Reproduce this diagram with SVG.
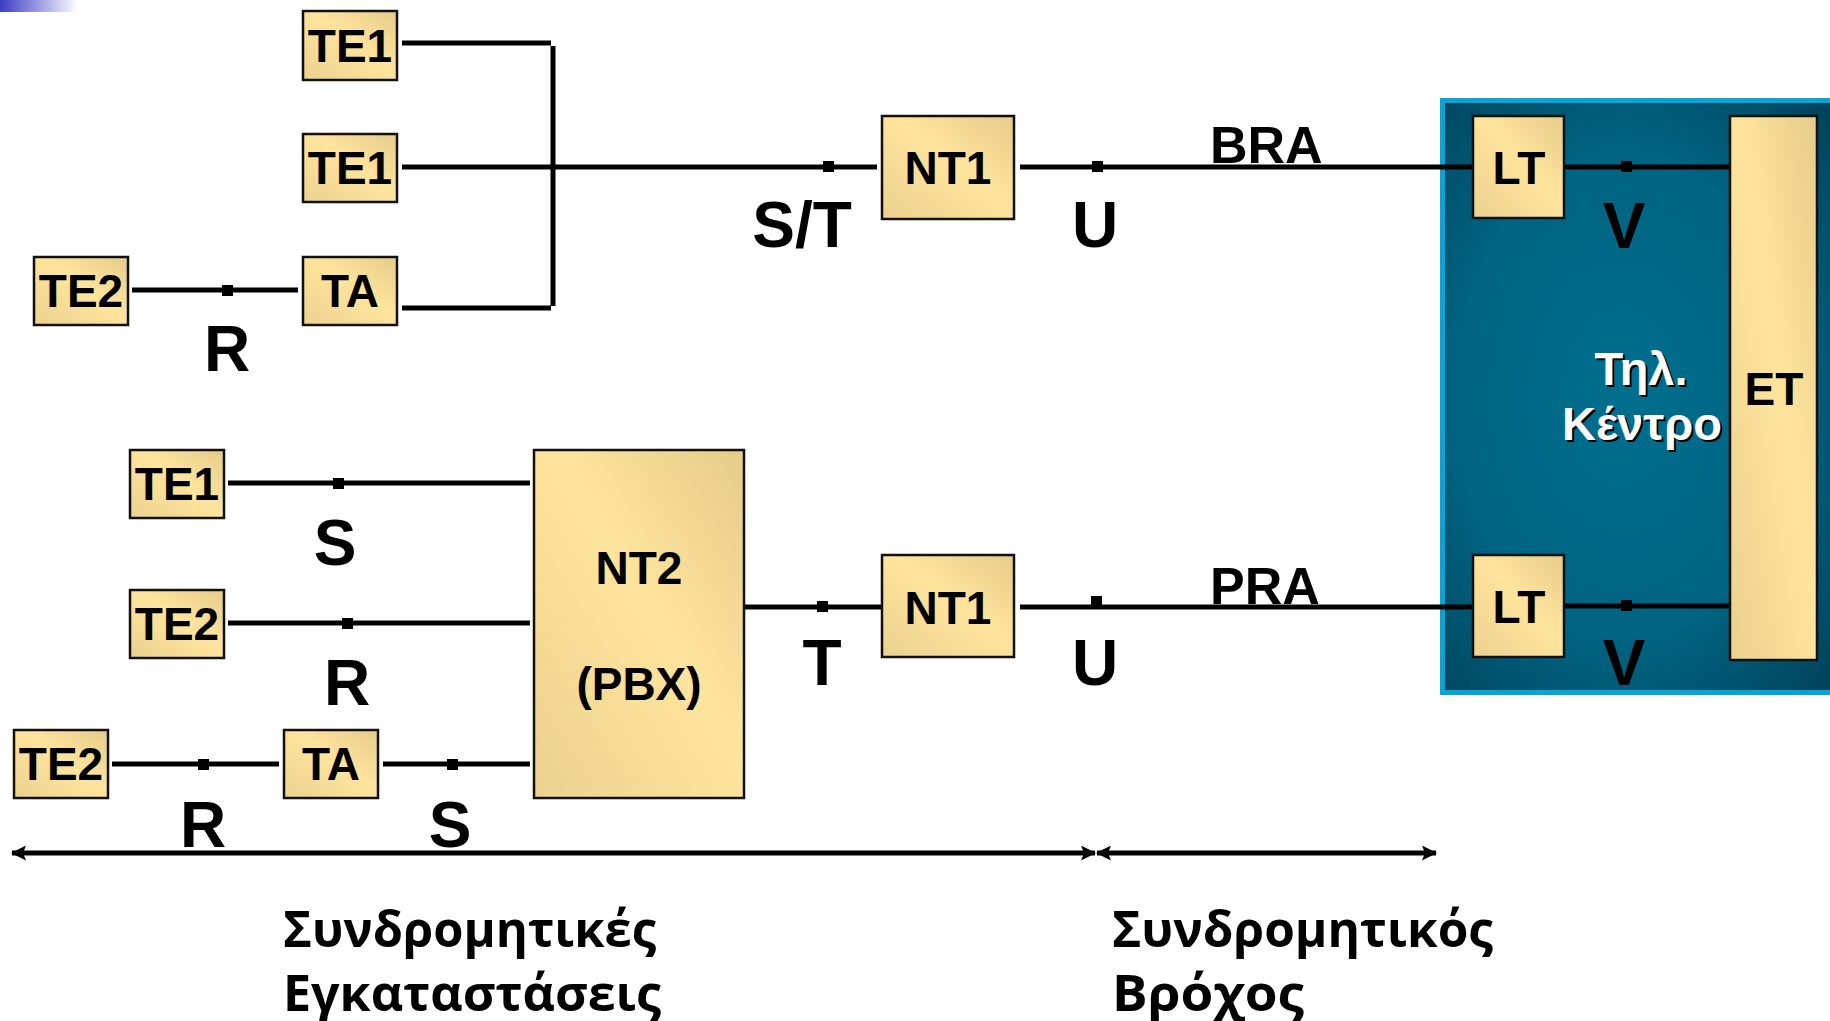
<svg xmlns="http://www.w3.org/2000/svg" width="1830" height="1021" viewBox="0 0 1830 1021">
<defs>
<linearGradient id="box" x1="1" y1="0" x2="0" y2="1">
<stop offset="0" stop-color="#e6cc8a"/>
<stop offset="0.45" stop-color="#fee49c"/>
<stop offset="1" stop-color="#ecd290"/>
</linearGradient>
<radialGradient id="teal" cx="0.45" cy="0.5" r="0.7">
<stop offset="0" stop-color="#006f8e"/>
<stop offset="0.6" stop-color="#006381"/>
<stop offset="1" stop-color="#01445c"/>
</radialGradient>
<linearGradient id="corner" x1="0" y1="0" x2="1" y2="0">
<stop offset="0" stop-color="#3c3cc4"/>
<stop offset="1" stop-color="#ffffff"/>
</linearGradient>
<marker id="ah" viewBox="0 0 15 15" refX="14" refY="7.5" markerWidth="15" markerHeight="15" orient="auto-start-reverse" markerUnits="userSpaceOnUse">
<path d="M0,0 L15,7.5 L0,15 L3,7.5 z" fill="#000"/>
</marker>
</defs>
<style>
.box{fill:url(#box);stroke:#111;stroke-width:2.5}
.nl{font-family:"Liberation Sans",Arial,sans-serif;font-weight:bold;font-size:46px;fill:#000;text-anchor:middle}
.il{font-family:"Liberation Sans",Arial,sans-serif;font-weight:bold;font-size:64px;fill:#000;text-anchor:middle}
.rl{font-family:"Liberation Sans",Arial,sans-serif;font-weight:bold;font-size:52px;fill:#000}
.wl{font-family:"Liberation Sans",Arial,sans-serif;font-weight:bold;font-size:47px;fill:#fff;text-anchor:middle}
.sh{font-family:"Liberation Sans",Arial,sans-serif;font-weight:bold;font-size:47px;fill:#000;text-anchor:middle}
.bt{font-family:"Open Sans","DejaVu Sans",sans-serif;font-weight:bold;font-size:51px;fill:#000}
.ln{stroke:#000;stroke-width:5;fill:none}
.dot{fill:#000}
</style>
<rect x="0" y="0" width="78" height="12" fill="url(#corner)"/>
<g id="exchange-area">
<rect x="1442.5" y="100.5" width="400" height="592" fill="url(#teal)" stroke="#08a4d6" stroke-width="5"/>
<text class="sh" x="1643" y="387">Τηλ.</text>
<text class="wl" x="1641" y="385">Τηλ.</text>
<text class="sh" x="1644" y="442">Κέντρο</text>
<text class="wl" x="1642" y="440">Κέντρο</text>
</g>
<g id="connectors">
<line class="ln" x1="402" y1="43" x2="551" y2="43"/>
<line class="ln" x1="553" y1="46" x2="553" y2="306"/>
<line class="ln" x1="402" y1="308" x2="551" y2="308"/>
<line class="ln" x1="402" y1="167" x2="877" y2="167"/>
<line class="ln" x1="132" y1="290" x2="298" y2="290"/>
<line class="ln" x1="1020" y1="167" x2="1473" y2="167"/>
<line class="ln" x1="1564" y1="167" x2="1730" y2="167"/>
<line class="ln" x1="228" y1="483" x2="530" y2="483"/>
<line class="ln" x1="228" y1="623" x2="530" y2="623"/>
<line class="ln" x1="112" y1="764" x2="279" y2="764"/>
<line class="ln" x1="383" y1="764" x2="530" y2="764"/>
<line class="ln" x1="744" y1="607" x2="882" y2="607"/>
<line class="ln" x1="1020" y1="607" x2="1473" y2="607"/>
<line class="ln" x1="1564" y1="606" x2="1730" y2="606"/>
<line class="ln" x1="12" y1="853" x2="1095" y2="853" marker-start="url(#ah)" marker-end="url(#ah)"/>
<line class="ln" x1="1097" y1="853" x2="1436" y2="853" marker-start="url(#ah)" marker-end="url(#ah)"/>
<rect class="dot" x="222" y="285" width="11" height="11"/>
<rect class="dot" x="823" y="161" width="11" height="11"/>
<rect class="dot" x="1092" y="161" width="11" height="11"/>
<rect class="dot" x="1621" y="161" width="11" height="11"/>
<rect class="dot" x="333" y="478" width="11" height="11"/>
<rect class="dot" x="342" y="618" width="11" height="11"/>
<rect class="dot" x="198" y="759" width="11" height="11"/>
<rect class="dot" x="447" y="759" width="11" height="11"/>
<rect class="dot" x="817" y="601" width="11" height="11"/>
<rect class="dot" x="1091" y="596" width="11" height="10"/>
<rect class="dot" x="1621" y="600" width="11" height="11"/>
</g>
<g id="labels">
<text class="il" x="227" y="371">R</text>
<text class="il" x="802" y="247">S/T</text>
<text class="il" x="1095" y="247">U</text>
<text class="il" x="1624" y="248">V</text>
<text class="il" x="335" y="565">S</text>
<text class="il" x="347" y="705">R</text>
<text class="il" x="203" y="847">R</text>
<text class="il" x="450" y="847">S</text>
<text class="il" x="822" y="685">T</text>
<text class="il" x="1095" y="685">U</text>
<text class="il" x="1624" y="685">V</text>
<text class="rl" x="1210" y="163">BRA</text>
<text class="rl" x="1210" y="604">PRA</text>
<text class="bt" x="283" y="947" textLength="373" lengthAdjust="spacingAndGlyphs">Συνδρομητικές</text>
<text class="bt" x="283" y="1011" textLength="378" lengthAdjust="spacingAndGlyphs">Εγκαταστάσεις</text>
<text class="bt" x="1112" y="947" textLength="381" lengthAdjust="spacingAndGlyphs">Συνδρομητικός</text>
<text class="bt" x="1112" y="1011" textLength="192" lengthAdjust="spacingAndGlyphs">Βρόχος</text>
</g>
<g id="te1-a"><rect class="box" x="303" y="11" width="94" height="69"/><text class="nl" x="350" y="62">TE1</text></g>
<g id="te1-b"><rect class="box" x="303" y="134" width="94" height="68"/><text class="nl" x="350" y="184">TE1</text></g>
<g id="ta-a"><rect class="box" x="303" y="257" width="94" height="68"/><text class="nl" x="350" y="307">TA</text></g>
<g id="te2-a"><rect class="box" x="34" y="257" width="94" height="68"/><text class="nl" x="81" y="307">TE2</text></g>
<g id="nt1-a"><rect class="box" x="882" y="116" width="132" height="103"/><text class="nl" x="948" y="184">NT1</text></g>
<g id="lt-a"><rect class="box" x="1473" y="116" width="91" height="102"/><text class="nl" x="1519" y="184">LT</text></g>
<g id="et"><rect class="box" x="1730" y="116" width="87" height="544"/><text class="nl" x="1774" y="405">ET</text></g>
<g id="te1-c"><rect class="box" x="130" y="450" width="94" height="68"/><text class="nl" x="177" y="500">TE1</text></g>
<g id="te2-b"><rect class="box" x="130" y="590" width="94" height="68"/><text class="nl" x="177" y="640">TE2</text></g>
<g id="te2-c"><rect class="box" x="14" y="730" width="94" height="68"/><text class="nl" x="61" y="780">TE2</text></g>
<g id="ta-b"><rect class="box" x="284" y="730" width="94" height="68"/><text class="nl" x="331" y="780">TA</text></g>
<g id="nt2"><rect class="box" x="534" y="450" width="210" height="348"/><text class="nl" x="639" y="584">NT2</text><text class="nl" x="639" y="700">(PBX)</text></g>
<g id="nt1-b"><rect class="box" x="882" y="555" width="132" height="102"/><text class="nl" x="948" y="624">NT1</text></g>
<g id="lt-b"><rect class="box" x="1473" y="555" width="91" height="102"/><text class="nl" x="1519" y="623">LT</text></g>
</svg>
